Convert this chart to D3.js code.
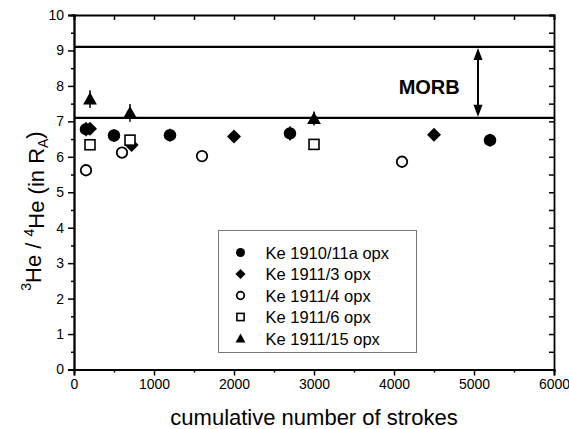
<html>
<script src="https://d3js.org/d3.v7.min.js"></script>
<style>
  body { margin: 0; background: #fff; }
  text { font-family: Arial, "Liberation Sans", sans-serif; fill: #000; }
</style>
<body>
<svg width="569" height="429"></svg>
<script>
// data: [strokes, 3He/4He in R_A, error]
var ke1910_11a = [[150, 6.78, 0.2], [500, 6.60, 0.18], [1200, 6.61, 0.18], [2700, 6.66, 0.2], [5200, 6.47, 0.18]];
var ke1911_3 = [[200, 6.79, 0.15], [720, 6.33, 0.15], [2000, 6.57, 0.12], [4500, 6.62, 0.12]];
var ke1911_4 = [[150, 5.62, 0.15], [600, 6.12, 0.12], [1600, 6.02, 0.1], [4100, 5.86, 0.1]];
var ke1911_6 = [[200, 6.34, 0.1], [700, 6.47, 0.1], [3000, 6.35, 0.1]];
var ke1911_15 = [[200, 7.63, 0.25], [700, 7.24, 0.25], [3000, 7.08, 0.2]];

var seriesNames = ["Ke 1910/11a opx", "Ke 1911/3 opx", "Ke 1911/4 opx", "Ke 1911/6 opx", "Ke 1911/15 opx"];
var seriesData = [ke1910_11a, ke1911_3, ke1911_4, ke1911_6, ke1911_15];
var seriesShape = ["circle", "diamond", "ocircle", "square", "triangle"];

var morbRange = [7.1, 9.1];
var xTicks = [0, 1000, 2000, 3000, 4000, 5000, 6000];
var yTicks = [0, 1, 2, 3, 4, 5, 6, 7, 8, 9, 10];

var svg = d3.select("svg");
var pLeft = 74, pRight = 554, pTop = 15, pBottom = 369.5;

var x = d3.scaleLinear().domain([0, 6000]).range([pLeft, pRight]);
var y = d3.scaleLinear().domain([0, 10]).range([pBottom, pTop]);

// MORB lines
svg.selectAll("line.morb").data(morbRange).enter().append("line")
  .attr("x1", pLeft).attr("x2", pRight)
  .attr("y1", function(d) { return y(d); }).attr("y2", function(d) { return y(d); })
  .attr("stroke", "#000").attr("stroke-width", 2.2);

// MORB arrow
var ax = x(5050);
svg.append("line").attr("x1", ax).attr("x2", ax)
  .attr("y1", y(morbRange[1]) + 8).attr("y2", y(morbRange[0]) - 8)
  .attr("stroke", "#000").attr("stroke-width", 2);
svg.append("path")
  .attr("d", "M" + ax + "," + (y(morbRange[1]) + 1) + " l-4.5,12 l9,0 z")
  .attr("fill", "#000");
svg.append("path")
  .attr("d", "M" + ax + "," + (y(morbRange[0]) - 1) + " l-4.5,-12 l9,0 z")
  .attr("fill", "#000");
svg.append("text").attr("x", x(4440)).attr("y", y(7.98) + 7)
  .attr("text-anchor", "middle").style("font-size", "20px").style("font-weight", "bold")
  .text("MORB");

// axes
function minor(dom, step) { return d3.range(dom[0], dom[1] + step / 2, step); }
svg.append("g").attr("transform", "translate(0," + pBottom + ")")
  .call(d3.axisBottom(x).tickValues(xTicks).tickSize(6).tickPadding(4).tickFormat(d3.format("d")));
svg.append("g").attr("transform", "translate(0," + pBottom + ")")
  .call(d3.axisBottom(x).tickValues(minor([500, 5500], 1000)).tickSize(3).tickFormat(""));
svg.append("g").attr("transform", "translate(0," + pTop + ")")
  .call(d3.axisBottom(x).tickValues(minor([0, 6000], 500)).tickSize(5).tickFormat(""));
svg.append("g").attr("transform", "translate(" + pLeft + ",0)")
  .call(d3.axisLeft(y).tickValues(yTicks).tickSize(6).tickPadding(4));
svg.append("g").attr("transform", "translate(" + pLeft + ",0)")
  .call(d3.axisLeft(y).tickValues(minor([0.5, 9.5], 1)).tickSize(3).tickFormat(""));
svg.append("g").attr("transform", "translate(" + pRight + ",0)")
  .call(d3.axisLeft(y).tickValues(minor([0, 10], 0.5)).tickSize(5).tickFormat(""));

svg.selectAll(".domain").attr("stroke", "#000").attr("stroke-width", 1.8);
svg.selectAll(".tick line").attr("stroke", "#000").attr("stroke-width", 1.5);
svg.selectAll(".tick text").style("font-size", "14px").style("font-family", "Arial, 'Liberation Sans', sans-serif").attr("fill", "#000");

// symbol drawing
function drawSymbol(g, shape, s) {
  if (shape === "circle") {
    g.append("circle").attr("r", s * 0.5).attr("fill", "#000");
  } else if (shape === "ocircle") {
    g.append("circle").attr("r", s * 0.42).attr("fill", "#fff").attr("stroke", "#000").attr("stroke-width", 1.8);
  } else if (shape === "diamond") {
    var h = s * 0.56;
    g.append("path").attr("d", "M0," + (-h) + " L" + h + ",0 L0," + h + " L" + (-h) + ",0 Z").attr("fill", "#000");
  } else if (shape === "square") {
    var a = s * 0.4;
    g.append("rect").attr("x", -a).attr("y", -a).attr("width", 2 * a).attr("height", 2 * a)
      .attr("fill", "#fff").attr("stroke", "#000").attr("stroke-width", 1.6);
  } else if (shape === "triangle") {
    var t = s * 0.55;
    g.append("path").attr("d", "M0," + (-t) + " L" + t + "," + (t * 0.8) + " L" + (-t) + "," + (t * 0.8) + " Z").attr("fill", "#000");
  }
}

// data points with error bars
seriesData.forEach(function(data, i) {
  var g = svg.append("g");
  g.selectAll("line.err").data(data).enter().append("line")
    .attr("x1", function(d) { return x(d[0]); }).attr("x2", function(d) { return x(d[0]); })
    .attr("y1", function(d) { return y(d[1] - d[2]); }).attr("y2", function(d) { return y(d[1] + d[2]); })
    .attr("stroke", "#000").attr("stroke-width", 1.5);
  g.selectAll("g.pt").data(data).enter().append("g")
    .attr("transform", function(d) { return "translate(" + x(d[0]) + "," + y(d[1]) + ")"; })
    .each(function() { drawSymbol(d3.select(this), seriesShape[i], 12.5); });
});

// legend
var lg = svg.append("g").attr("transform", "translate(218.5,230.5)");
lg.append("rect").attr("width", 198).attr("height", 122)
  .attr("fill", "#fff").attr("stroke", "#777").attr("stroke-width", 1);
seriesNames.forEach(function(name, i) {
  var row = lg.append("g").attr("transform", "translate(22," + (22 + i * 21.5) + ")");
  drawSymbol(row.append("g"), seriesShape[i], 9);
  row.append("text").attr("x", 25).attr("y", 6).style("font-size", "16.5px").text(name);
});

// axis titles
svg.append("text").attr("x", 314).attr("y", 425).attr("text-anchor", "middle")
  .style("font-size", "22px").text("cumulative number of strokes");

var yt = svg.append("text").attr("transform", "translate(37,211) rotate(-90)")
  .attr("text-anchor", "middle").style("font-size", "22px");
yt.append("tspan").attr("dy", "-0.45em").style("font-size", "14px").text("3");
yt.append("tspan").attr("dy", "0.45em").text("He / ");
yt.append("tspan").attr("dy", "-0.45em").style("font-size", "14px").text("4");
yt.append("tspan").attr("dy", "0.45em").text("He (in R");
yt.append("tspan").attr("dy", "0.3em").style("font-size", "14px").text("A");
yt.append("tspan").attr("dy", "-0.3em").text(")");
</script>
</body>
</html>
